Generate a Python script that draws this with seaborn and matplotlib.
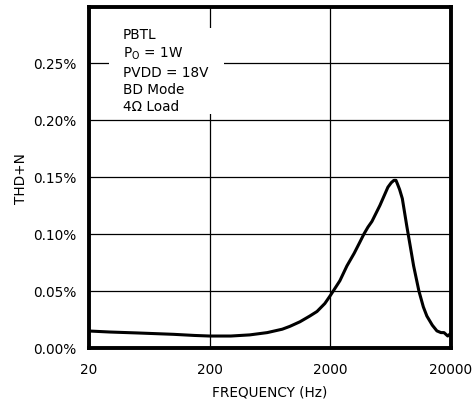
import matplotlib
matplotlib.use("Agg")
import matplotlib.pyplot as plt
import seaborn as sns
import pandas as pd
from matplotlib.patches import Rectangle
from matplotlib.ticker import FuncFormatter, FixedLocator, NullLocator

# Data (THD+N in percent)
freq_hz = [20, 30, 50, 100, 150, 200, 300, 430, 600, 800, 925, 1120, 1350,
           1550, 1800, 2000, 2400, 2745, 3150, 3520, 3800, 4100, 4425, 5150,
           6000, 6400, 6730, 7000, 7190, 7500, 7900, 8600, 9200, 9800, 10840,
           11800, 12620, 14000, 15280, 16500, 17500, 18800, 20000]
thd_pct = [0.0149, 0.014, 0.0132, 0.012, 0.011, 0.0105, 0.0105, 0.0115,
           0.0135, 0.0165, 0.019, 0.023, 0.028, 0.032, 0.039, 0.046, 0.059,
           0.072, 0.083, 0.093, 0.100, 0.106, 0.111, 0.125, 0.141, 0.145,
           0.147, 0.147, 0.144, 0.139, 0.131, 0.107, 0.089, 0.072, 0.050,
           0.036, 0.028, 0.020, 0.015, 0.0135, 0.0135, 0.0105, 0.013]
x_ticks = [20, 200, 2000, 20000]
y_ticks = [0.0, 0.05, 0.10, 0.15, 0.20, 0.25]

df = pd.DataFrame({"freq": freq_hz, "thd": thd_pct})

sns.set_style("white")
plt.rcParams["font.family"] = ["DejaVu Sans"]
plt.rcParams["text.color"] = "black"
plt.rcParams["axes.labelcolor"] = "black"

fig = plt.figure(figsize=(4.74, 4.10), dpi=100)
ax = fig.add_axes([89/474, 1-349/410, (451-89)/474, (349-8)/410])

sns.lineplot(data=df, x="freq", y="thd", ax=ax, color="black",
             linewidth=2.2, zorder=3)

ax.set_xscale("log")
ax.set_xlim(20, 20000)
ax.set_ylim(0, 0.299)
ax.xaxis.set_major_locator(FixedLocator(x_ticks))
ax.xaxis.set_minor_locator(NullLocator())
ax.xaxis.set_major_formatter(FuncFormatter(lambda v, p: f"{v:g}"))
ax.yaxis.set_major_locator(FixedLocator(y_ticks))
ax.yaxis.set_major_formatter(FuncFormatter(lambda v, p: f"{v:.2f}%"))

ax.set_axisbelow(True)
ax.grid(True, color="black", linewidth=0.9)
for s in ax.spines.values():
    s.set_color("black")
    s.set_linewidth(2.8)
ax.tick_params(axis="both", length=0, labelsize=9.8, colors="black")
ax.tick_params(axis="y", pad=9)
ax.tick_params(axis="x", pad=10)

ax.set_xlabel("FREQUENCY (Hz)", fontsize=9.8, labelpad=6, color="black")
ax.set_ylabel("THD+N", fontsize=9.8, labelpad=4, color="black")

# white panel behind the annotation (hides the grid)
ax.add_patch(Rectangle((0.055, 0.686), 0.318, 0.252, transform=ax.transAxes,
                       facecolor="white", edgecolor="none", zorder=1))
txt = "PBTL\nP$_\\mathregular{O}$ = 1W\nPVDD = 18V\nBD Mode\n4\u03a9 Load"
ax.text(0.094, 0.94, txt, transform=ax.transAxes, fontsize=9.8,
        va="top", ha="left", linespacing=1.3, zorder=2, color="black")

fig.savefig("out.png", dpi=100)
